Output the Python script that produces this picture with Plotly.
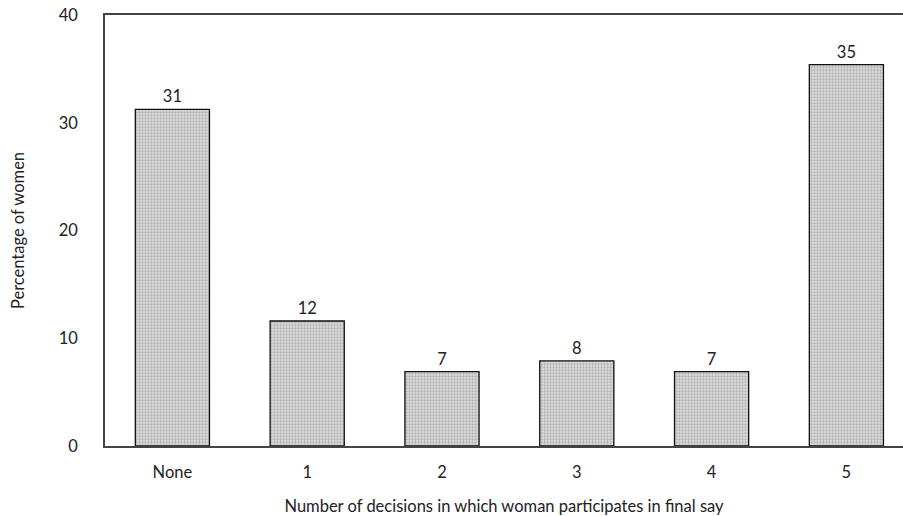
import plotly.graph_objects as go

categories = ["None", "1", "2", "3", "4", "5"]
values = [31.25, 11.6, 6.9, 7.9, 6.9, 35.4]
labels = ["31", "12", "7", "8", "7", "35"]
y_ticks = [0, 10, 20, 30, 40]

font_family = "Lato, 'Open Sans', sans-serif"

fig = go.Figure(go.Bar(
    x=list(range(len(categories))),
    y=values,
    text=labels,
    textposition="outside",
    cliponaxis=False,
    textfont=dict(size=16.5, color="#222", family=font_family),
    marker=dict(
        color="#d6d6d6",
        line=dict(color="#111", width=1.3),
        pattern=dict(shape=".", fgcolor="#8a8a8a", bgcolor="#dcdcdc", size=3, solidity=0.45),
    ),
    width=0.55,
))

fig.update_layout(
    width=903, height=516,
    margin=dict(l=105, r=0, t=15, b=70, autoexpand=False),
    paper_bgcolor="white", plot_bgcolor="white",
    font=dict(family=font_family, size=16.5, color="#222"),
    showlegend=False,
)
fig.update_xaxes(
    tickmode="array", tickvals=list(range(len(categories))), ticktext=categories,
    range=[-0.5, 5.42], showgrid=False, zeroline=False, automargin=False,
    showline=True, linecolor="#444", linewidth=1.5, mirror=True,
    ticks="", ticklabelstandoff=10, ticklabeloverflow="allow",
    title=dict(text="Number of decisions in which woman participates in final say", standoff=20,
               font=dict(size=16.5)),
)
fig.update_yaxes(
    range=[0, 40], tickvals=y_ticks, showgrid=False, zeroline=False, automargin=False,
    showline=True, linecolor="#444", linewidth=1.5,
    ticks="", ticklabelstandoff=22, ticklabeloverflow="allow",
    title=dict(text="Percentage of women", standoff=30, font=dict(size=16.5)),
)

fig.write_html(
    "out.html",
    config={"displayModeBar": False},
    post_script="document.body.style.margin='0';document.body.style.overflow='hidden';",
)
